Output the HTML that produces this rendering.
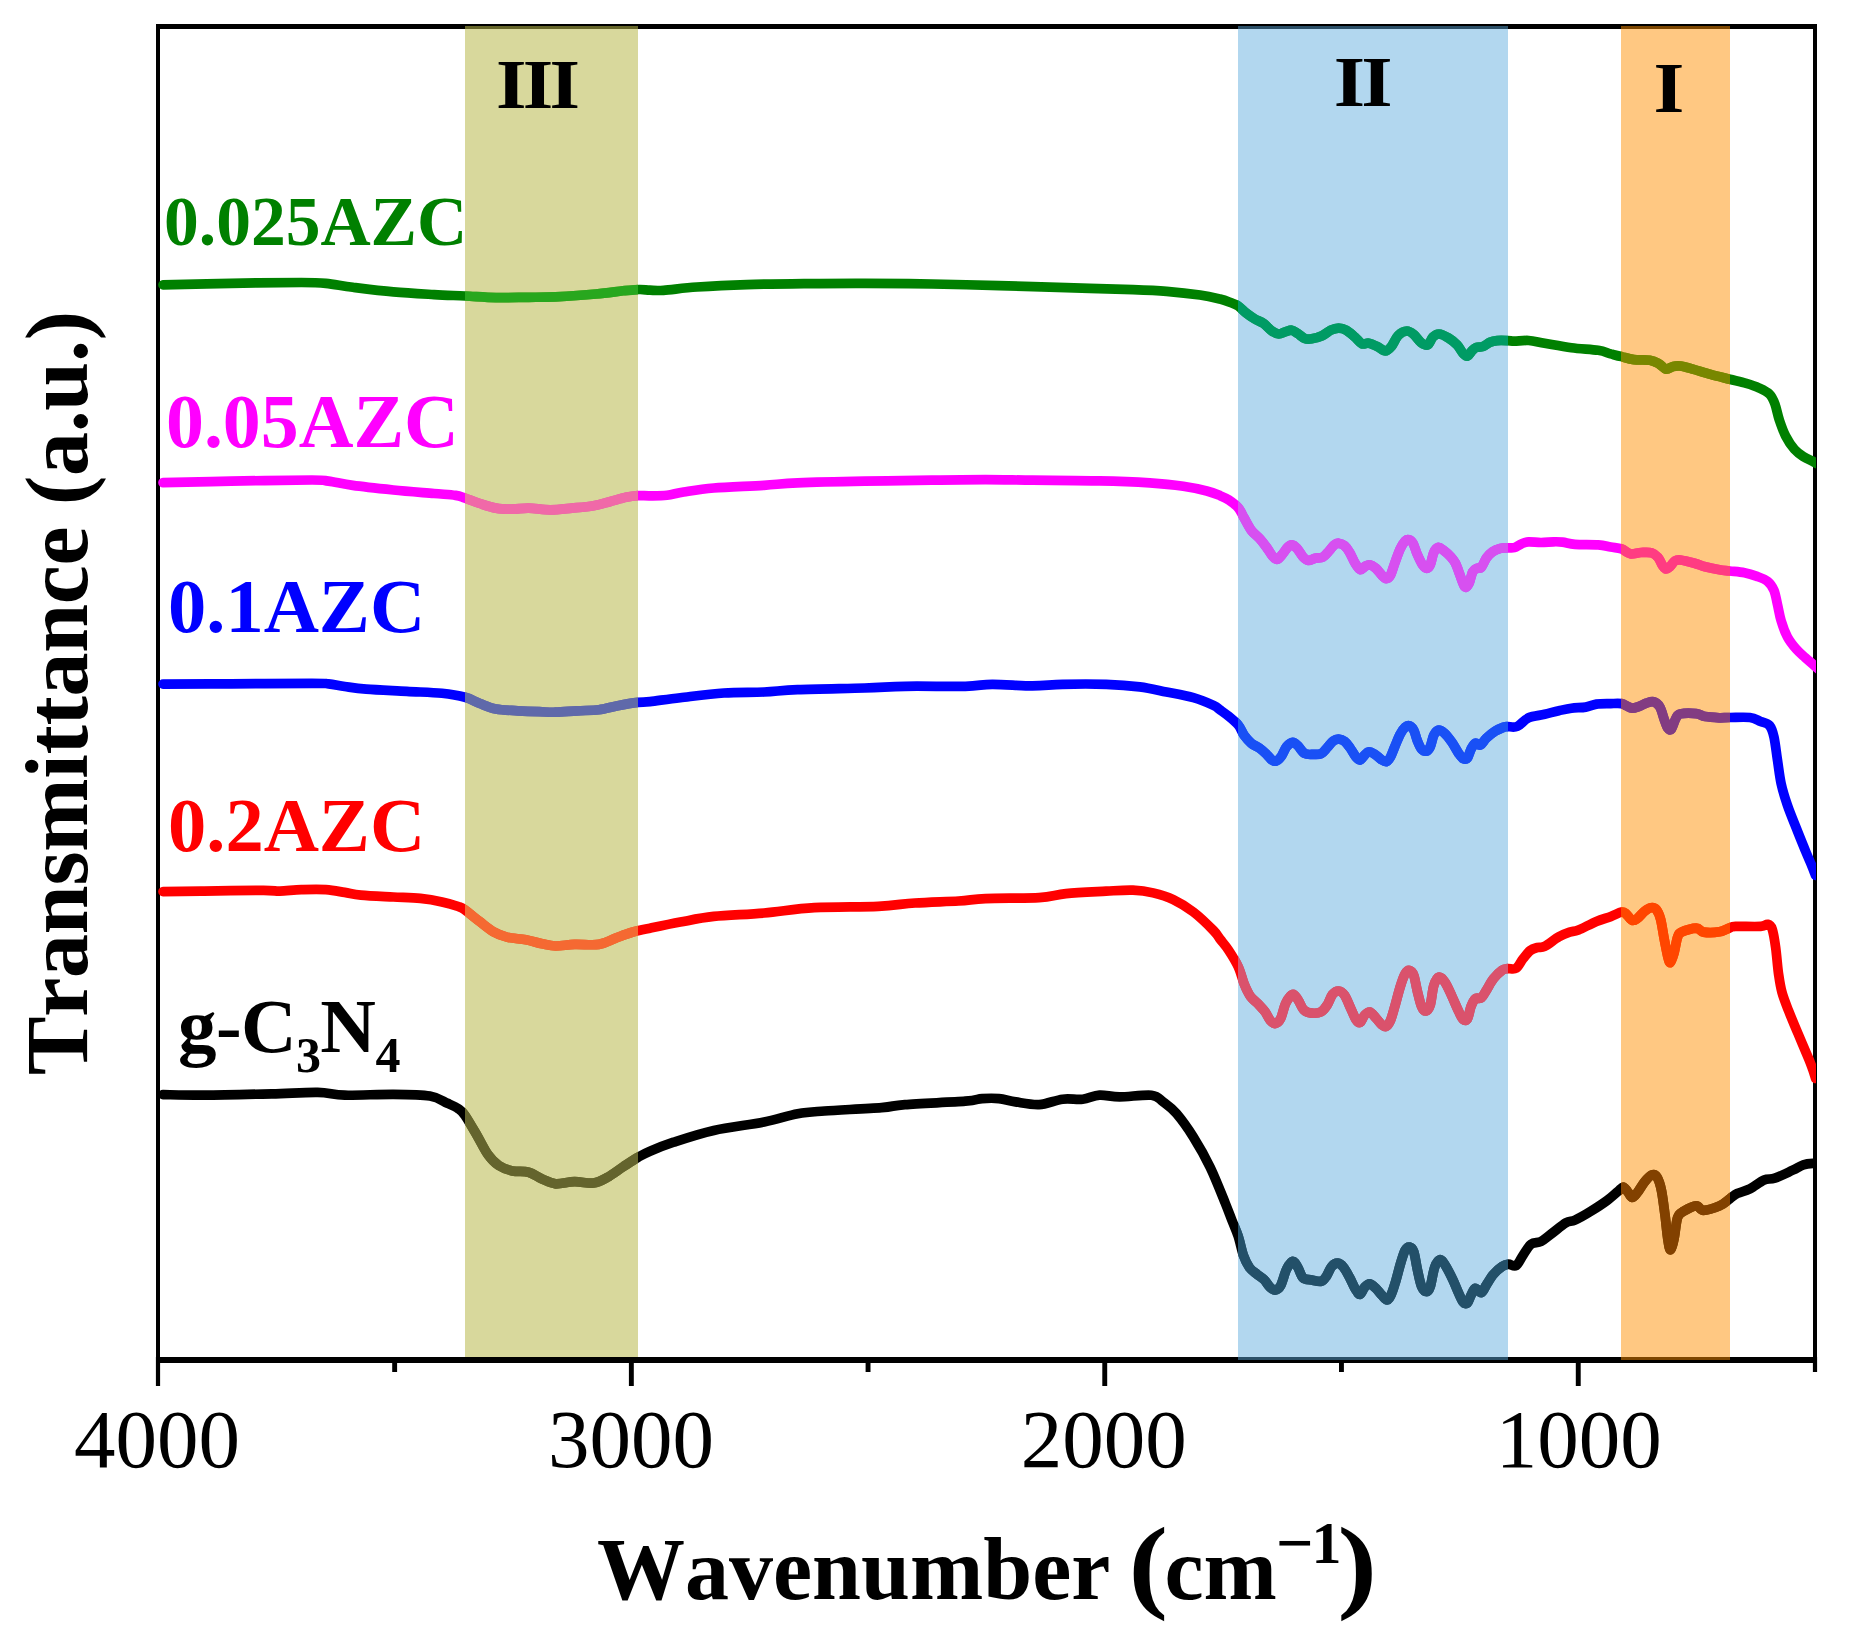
<!DOCTYPE html>
<html lang="en"><head><meta charset="utf-8"><title>FTIR spectra</title>
<style>html,body{margin:0;padding:0;background:#fff;overflow:hidden}svg{display:block}text{font-family:"Liberation Serif",serif}.b{font-weight:bold}text{font-kerning:none;font-variant-ligatures:none}</style></head><body>
<svg width="1849" height="1647" viewBox="0 0 1849 1647">
<rect width="1849" height="1647" fill="#fff"/>
<defs><clipPath id="cp"><rect x="158" y="20" width="1658" height="1345"/></clipPath>
<path id="c0" d="M163.0 284.8C174.3 284.6 207.9 283.7 231.0 283.3C254.1 282.9 285.6 282.5 301.4 282.5C317.2 282.5 317.2 282.5 325.8 283.3C334.4 284.1 341.5 285.9 352.8 287.3C364.1 288.7 379.9 290.7 393.4 291.9C406.9 293.1 422.1 293.9 434.0 294.6C445.9 295.3 454.7 295.5 465.0 296.0C475.3 296.5 485.4 297.4 496.0 297.6C506.6 297.8 518.7 297.4 528.6 297.3C538.5 297.2 544.4 297.4 555.6 296.8C566.8 296.2 584.8 295.0 596.0 294.0C607.2 293.0 615.8 291.6 623.0 290.8C630.2 290.1 635.0 289.6 639.5 289.5C644.0 289.4 646.0 290.1 650.0 290.2C654.0 290.3 655.7 290.8 663.5 290.3C671.3 289.8 683.1 287.9 697.0 287.0C710.9 286.1 729.2 285.2 747.0 284.6C764.8 284.0 784.3 283.8 804.0 283.6C823.7 283.4 843.7 283.2 865.0 283.3C886.3 283.4 909.7 283.6 932.0 284.0C954.3 284.4 976.7 285.0 999.0 285.6C1021.3 286.2 1043.7 286.9 1066.0 287.6C1088.3 288.3 1116.2 289.0 1133.0 289.6C1149.8 290.2 1155.4 290.4 1166.6 291.3C1177.8 292.2 1191.1 293.7 1200.0 295.0C1208.9 296.3 1214.9 297.8 1220.0 299.0C1225.1 300.2 1227.4 301.3 1230.4 302.5C1233.4 303.7 1235.6 304.3 1238.2 306.0C1240.8 307.7 1243.3 310.8 1246.0 312.9C1248.7 315.0 1251.7 317.2 1254.6 318.9C1257.5 320.6 1260.4 321.3 1263.3 323.3C1266.2 325.3 1269.3 329.2 1271.9 331.0C1274.5 332.8 1276.5 333.9 1278.8 334.0C1281.1 334.1 1283.6 332.2 1285.8 331.6C1288.0 331.0 1289.8 329.9 1291.8 330.2C1293.8 330.5 1295.7 332.3 1297.9 333.7C1300.1 335.1 1302.5 337.6 1304.8 338.5C1307.1 339.4 1308.8 339.3 1311.7 338.8C1314.6 338.3 1318.9 337.1 1322.1 335.7C1325.3 334.3 1328.0 331.5 1330.8 330.2C1333.5 328.9 1336.0 328.1 1338.6 328.1C1341.2 328.1 1343.6 328.7 1346.3 330.2C1349.0 331.7 1352.4 334.9 1355.0 337.1C1357.6 339.4 1359.6 342.7 1361.9 343.7C1364.2 344.7 1366.2 342.7 1368.8 343.2C1371.4 343.7 1374.8 345.3 1377.5 346.6C1380.2 347.9 1383.0 351.0 1385.3 351.0C1387.6 351.0 1389.1 349.2 1391.3 346.6C1393.5 344.0 1395.7 338.0 1398.3 335.4C1400.9 332.8 1404.3 331.1 1406.9 331.0C1409.5 330.9 1411.5 332.6 1413.8 334.5C1416.1 336.4 1418.5 340.6 1420.8 342.3C1423.1 344.0 1425.7 345.8 1427.7 344.9C1429.7 344.0 1431.0 338.9 1432.9 337.1C1434.8 335.3 1436.3 333.9 1438.9 334.0C1441.5 334.1 1445.5 336.2 1448.5 338.0C1451.5 339.8 1454.6 342.3 1457.1 344.9C1459.5 347.5 1461.5 351.7 1463.2 353.6C1464.9 355.5 1466.1 356.6 1467.5 356.2C1468.9 355.8 1470.4 352.4 1471.8 351.0C1473.2 349.6 1474.2 348.2 1476.1 347.5C1478.0 346.8 1480.7 347.5 1483.0 346.6C1485.3 345.7 1487.7 343.3 1490.0 342.3C1492.3 341.3 1494.0 340.9 1497.0 340.6C1500.0 340.3 1504.9 340.5 1507.8 340.6C1510.7 340.7 1510.8 341.2 1514.3 341.2C1517.8 341.2 1523.5 340.2 1528.6 340.5C1533.6 340.8 1537.5 342.0 1544.6 343.2C1551.7 344.4 1562.5 346.5 1571.4 347.7C1580.3 348.9 1591.7 349.3 1598.2 350.3C1604.8 351.3 1606.8 352.8 1610.7 353.9C1614.6 354.9 1617.5 355.7 1621.4 356.6C1625.3 357.6 1629.2 359.0 1633.9 359.6C1638.7 360.2 1645.8 359.5 1649.9 360.2C1654.1 360.9 1656.1 362.2 1658.8 363.7C1661.5 365.2 1663.6 368.7 1666.0 369.1C1668.4 369.6 1670.7 366.9 1673.1 366.4C1675.5 365.9 1677.0 365.6 1680.3 366.0C1683.6 366.4 1687.8 367.7 1692.8 369.1C1697.8 370.5 1704.4 372.7 1710.6 374.4C1716.8 376.1 1724.0 377.8 1729.9 379.3C1735.9 380.8 1741.5 382.0 1746.3 383.4C1751.1 384.8 1754.9 386.0 1758.8 387.8C1762.7 389.6 1766.8 391.4 1769.5 394.1C1772.2 396.8 1773.3 399.6 1774.9 403.9C1776.5 408.2 1777.5 414.5 1779.3 419.9C1781.1 425.2 1783.1 431.1 1785.6 436.0C1788.1 440.9 1791.5 446.0 1794.5 449.4C1797.5 452.8 1800.1 454.5 1803.4 456.6C1806.7 458.7 1811.0 460.5 1814.1 462.1C1817.2 463.7 1820.7 465.5 1822.0 466.2"/>
<path id="c1" d="M163.0 482.7C174.3 482.4 206.2 481.6 231.0 481.1C255.8 480.7 295.8 480.0 312.0 480.0C328.2 480.0 321.7 480.2 328.5 481.1C335.3 482.0 342.0 483.9 352.8 485.4C363.6 486.9 379.9 488.6 393.4 490.0C406.9 491.4 423.6 492.6 434.0 493.5C444.4 494.4 450.4 494.6 455.6 495.4C460.8 496.2 460.9 496.8 465.0 498.1C469.1 499.5 474.7 501.8 479.9 503.5C485.1 505.2 490.6 507.2 496.0 508.1C501.4 509.1 507.0 509.2 512.4 509.2C517.8 509.2 522.3 508.0 528.6 508.1C534.9 508.2 543.0 509.8 550.2 509.8C557.4 509.8 564.7 508.8 571.9 508.1C579.1 507.4 587.2 506.8 593.5 505.7C599.8 504.6 604.3 503.1 609.7 501.7C615.1 500.3 621.3 498.3 626.0 497.3C630.7 496.3 634.0 495.9 638.0 495.6C642.0 495.4 645.2 495.9 650.0 495.8C654.8 495.8 661.4 495.9 667.0 495.3C672.6 494.7 675.9 493.2 683.7 492.0C691.5 490.8 700.4 489.1 713.8 488.0C727.2 486.9 750.0 486.2 764.0 485.3C778.0 484.4 780.9 483.6 797.7 482.9C814.5 482.2 842.4 481.6 864.7 481.2C887.1 480.8 911.7 480.5 931.8 480.2C951.9 479.9 968.7 479.6 985.5 479.6C1002.3 479.6 1013.4 480.0 1032.4 480.2C1051.4 480.4 1079.9 480.4 1099.5 480.9C1119.1 481.3 1135.8 482.0 1149.8 482.9C1163.8 483.8 1173.8 484.9 1183.3 486.3C1192.8 487.7 1200.7 489.4 1206.8 491.0C1212.9 492.6 1216.3 494.1 1220.0 495.6C1223.7 497.1 1225.7 497.9 1228.7 499.9C1231.7 501.9 1235.6 504.7 1238.2 507.7C1240.8 510.7 1242.0 514.4 1244.2 518.1C1246.4 521.9 1248.6 526.8 1251.2 530.2C1253.8 533.7 1257.2 535.9 1259.8 538.8C1262.4 541.7 1264.7 544.8 1266.7 547.5C1268.7 550.2 1270.2 553.3 1271.9 555.3C1273.6 557.3 1275.4 559.4 1277.1 559.3C1278.8 559.1 1280.6 556.4 1282.3 554.4C1284.0 552.4 1285.9 549.1 1287.5 547.5C1289.1 545.9 1290.2 544.8 1291.8 544.9C1293.4 545.0 1295.1 546.4 1297.0 548.4C1298.9 550.4 1301.2 555.0 1303.1 557.0C1305.0 559.0 1306.3 560.3 1308.3 560.5C1310.3 560.7 1312.8 558.8 1315.2 558.2C1317.7 557.6 1320.7 558.2 1323.0 557.0C1325.3 555.8 1327.1 553.0 1329.0 551.0C1330.9 549.0 1332.6 546.2 1334.2 544.9C1335.8 543.6 1336.9 543.1 1338.6 543.2C1340.3 543.4 1342.7 544.2 1344.6 545.8C1346.5 547.4 1348.1 549.8 1349.8 552.7C1351.5 555.6 1353.3 560.3 1355.0 563.1C1356.7 565.9 1358.5 569.1 1360.2 569.6C1361.9 570.1 1363.8 567.0 1365.4 566.2C1367.0 565.4 1368.0 564.4 1369.7 564.8C1371.4 565.1 1373.8 566.6 1375.8 568.3C1377.8 570.0 1380.1 573.5 1381.8 575.2C1383.5 576.9 1384.8 578.6 1386.2 578.6C1387.7 578.6 1389.1 577.8 1390.5 575.2C1391.9 572.6 1393.2 567.4 1394.8 563.1C1396.4 558.8 1398.3 552.9 1400.0 549.2C1401.7 545.5 1403.8 542.5 1405.2 540.9C1406.6 539.3 1407.3 539.3 1408.6 539.7C1409.9 540.1 1411.5 540.8 1413.0 543.2C1414.5 545.7 1415.7 550.8 1417.3 554.4C1418.9 558.0 1420.9 562.5 1422.5 564.8C1424.1 567.1 1425.5 568.3 1426.8 568.3C1428.1 568.3 1429.1 567.4 1430.3 564.8C1431.5 562.2 1432.4 555.6 1433.7 552.7C1435.0 549.8 1436.5 547.9 1438.1 547.5C1439.7 547.1 1441.3 548.6 1443.3 550.1C1445.3 551.6 1448.2 554.0 1450.2 556.2C1452.2 558.4 1453.8 560.1 1455.4 563.1C1457.0 566.1 1458.4 570.8 1459.7 574.3C1461.0 577.8 1462.2 581.6 1463.2 583.8C1464.2 586.0 1464.8 587.4 1465.8 587.3C1466.8 587.2 1468.0 585.6 1469.2 583.0C1470.4 580.4 1471.4 574.2 1472.7 571.7C1474.0 569.2 1475.6 569.0 1477.0 568.3C1478.4 567.6 1479.7 569.1 1481.3 567.4C1482.9 565.7 1484.6 560.5 1486.5 557.9C1488.4 555.3 1490.3 553.4 1492.6 551.8C1494.9 550.2 1497.9 549.1 1500.4 548.4C1502.9 547.7 1505.5 547.9 1507.8 547.8C1510.1 547.7 1512.0 548.2 1514.3 547.6C1516.6 547.0 1519.0 544.9 1521.4 543.9C1523.8 542.9 1525.3 542.0 1528.6 541.8C1531.9 541.6 1536.8 542.5 1541.0 542.5C1545.2 542.5 1549.9 541.9 1553.5 541.8C1557.1 541.7 1558.9 541.7 1562.5 542.1C1566.1 542.5 1569.0 543.8 1575.0 544.3C1581.0 544.8 1592.2 544.3 1598.2 544.8C1604.2 545.3 1606.8 546.4 1610.7 547.1C1614.6 547.8 1618.1 547.8 1621.4 548.9C1624.7 550.0 1627.0 553.1 1630.3 553.7C1633.6 554.3 1637.4 552.6 1641.0 552.5C1644.6 552.4 1648.9 552.0 1651.7 552.8C1654.5 553.6 1656.2 555.2 1658.0 557.3C1659.8 559.4 1661.1 563.4 1662.4 565.3C1663.7 567.2 1664.7 568.8 1666.0 568.9C1667.3 569.0 1668.9 567.5 1670.4 566.2C1671.9 564.9 1673.2 561.9 1674.9 560.9C1676.6 559.9 1677.0 559.6 1680.3 560.0C1683.6 560.4 1690.3 562.1 1694.5 563.2C1698.7 564.3 1701.0 565.7 1705.2 566.8C1709.4 567.9 1715.4 569.1 1719.5 569.8C1723.6 570.5 1725.7 570.5 1729.9 571.0C1734.1 571.5 1740.0 571.9 1744.5 572.8C1749.0 573.7 1753.1 575.0 1757.0 576.4C1760.9 577.8 1764.9 579.1 1767.7 581.4C1770.5 583.7 1772.4 586.4 1774.0 590.3C1775.6 594.2 1776.3 599.5 1777.5 604.6C1778.7 609.7 1779.5 615.4 1781.1 620.7C1782.7 626.1 1784.8 632.0 1787.3 636.7C1789.8 641.5 1793.3 645.7 1796.3 649.2C1799.3 652.7 1802.2 654.9 1805.2 657.6C1808.2 660.3 1811.3 662.8 1814.1 665.3C1816.9 667.8 1820.7 671.1 1822.0 672.3"/>
<path id="c2" d="M163.0 684.1C174.3 684.0 206.2 683.9 231.0 683.8C255.8 683.7 295.8 683.3 312.0 683.3C328.2 683.3 323.1 683.3 328.5 683.8C333.9 684.3 338.4 685.6 344.7 686.5C351.0 687.4 355.9 688.4 366.3 689.2C376.7 690.0 394.3 690.7 406.9 691.4C419.5 692.1 432.3 692.3 442.0 693.3C451.7 694.3 458.7 695.6 465.0 697.3C471.3 699.0 474.7 701.5 479.9 703.5C485.1 705.5 489.7 707.8 496.0 709.0C502.3 710.2 510.6 710.3 517.8 710.8C525.0 711.2 533.1 711.5 539.4 711.7C545.7 711.9 549.3 712.4 555.6 712.2C561.9 712.1 570.1 711.2 577.3 710.8C584.5 710.4 592.1 710.6 598.9 709.8C605.6 708.9 611.3 706.9 617.8 705.7C624.3 704.5 632.7 703.1 638.1 702.4C643.5 701.7 643.0 702.4 650.0 701.6C657.0 700.8 668.0 699.1 680.3 697.7C692.6 696.3 709.9 694.0 723.9 693.0C737.9 692.0 751.8 692.6 764.1 692.0C776.4 691.4 780.9 690.3 797.7 689.6C814.5 688.9 846.8 688.5 864.7 688.0C882.6 687.5 888.2 686.6 905.0 686.3C921.8 686.0 950.8 686.6 965.3 686.3C979.8 686.0 981.0 684.4 992.2 684.3C1003.4 684.2 1020.7 685.9 1032.4 685.9C1044.1 685.9 1050.3 684.6 1062.6 684.3C1074.9 684.0 1093.3 683.9 1106.2 684.3C1119.1 684.7 1129.7 685.6 1139.7 686.9C1149.8 688.2 1157.5 690.2 1166.5 692.0C1175.5 693.8 1185.6 695.5 1193.4 697.7C1201.2 699.9 1209.1 703.4 1213.5 705.4C1217.9 707.4 1217.5 708.0 1220.0 709.8C1222.5 711.6 1225.7 713.8 1228.7 716.3C1231.7 718.8 1235.6 721.8 1238.2 725.0C1240.8 728.2 1242.0 732.4 1244.2 735.4C1246.4 738.4 1248.6 741.0 1251.2 743.2C1253.8 745.4 1257.2 746.5 1259.8 748.4C1262.4 750.3 1264.7 752.5 1266.7 754.4C1268.7 756.3 1270.3 758.9 1271.9 760.0C1273.5 761.1 1274.6 761.6 1276.2 761.0C1277.8 760.4 1279.7 758.6 1281.4 756.2C1283.1 753.8 1284.7 748.9 1286.6 746.6C1288.5 744.3 1290.8 742.4 1292.7 742.3C1294.6 742.2 1295.9 743.9 1297.9 745.8C1299.9 747.7 1302.2 752.2 1304.8 753.6C1307.4 755.0 1310.8 754.4 1313.5 754.4C1316.2 754.4 1318.9 754.8 1321.2 753.6C1323.5 752.5 1325.3 749.6 1327.3 747.5C1329.3 745.4 1331.5 742.3 1333.4 740.9C1335.3 739.5 1336.7 739.1 1338.6 739.2C1340.5 739.3 1342.7 740.0 1344.6 741.4C1346.5 742.8 1347.9 744.9 1349.8 747.5C1351.7 750.1 1354.2 754.9 1355.9 757.0C1357.6 759.1 1358.8 760.3 1360.2 760.0C1361.6 759.7 1363.1 756.7 1364.5 755.3C1365.9 753.9 1367.1 751.9 1368.8 751.8C1370.5 751.6 1372.9 753.1 1374.9 754.4C1376.9 755.6 1379.1 758.1 1381.0 759.3C1382.9 760.5 1384.6 762.1 1386.2 761.7C1387.8 761.3 1389.1 759.5 1390.5 757.0C1391.9 754.5 1393.2 750.4 1394.8 746.6C1396.4 742.9 1398.3 737.8 1400.0 734.5C1401.7 731.2 1403.6 728.5 1405.2 727.1C1406.8 725.7 1408.1 725.4 1409.5 725.9C1410.9 726.4 1412.5 727.8 1413.8 730.2C1415.1 732.7 1416.0 737.4 1417.3 740.6C1418.6 743.8 1420.0 747.5 1421.6 749.2C1423.2 750.9 1425.3 751.4 1426.8 751.0C1428.2 750.6 1429.1 749.2 1430.3 746.6C1431.5 744.0 1432.4 738.1 1433.7 735.4C1435.0 732.7 1436.4 730.6 1438.1 730.2C1439.8 729.8 1441.8 730.8 1444.1 732.8C1446.4 734.8 1449.5 738.8 1451.9 742.3C1454.4 745.8 1456.9 750.9 1458.8 753.6C1460.7 756.3 1461.8 758.0 1463.2 758.7C1464.7 759.4 1466.2 759.5 1467.5 757.9C1468.8 756.3 1469.7 751.7 1471.0 749.2C1472.3 746.8 1473.7 743.9 1475.3 743.2C1476.9 742.5 1478.6 745.8 1480.5 744.9C1482.4 744.0 1484.0 740.3 1486.5 738.0C1489.0 735.7 1492.3 732.9 1495.2 731.1C1498.1 729.3 1501.7 727.9 1503.8 727.1C1505.9 726.4 1505.5 726.7 1507.8 726.6C1510.0 726.5 1513.8 727.9 1517.3 726.4C1520.8 724.9 1524.0 719.8 1528.6 717.8C1533.1 715.8 1539.5 715.5 1544.6 714.3C1549.6 713.1 1554.4 711.7 1558.9 710.7C1563.4 709.7 1566.9 708.8 1571.4 708.2C1575.9 707.6 1581.5 707.8 1585.7 707.1C1589.9 706.4 1592.2 704.7 1596.4 704.1C1600.6 703.5 1606.5 703.7 1610.7 703.6C1614.9 703.5 1618.7 703.2 1621.4 703.6C1624.1 704.0 1624.9 705.1 1626.7 705.9C1628.5 706.7 1630.0 708.1 1632.1 708.2C1634.2 708.3 1636.8 707.2 1639.2 706.4C1641.6 705.6 1643.9 704.0 1646.3 703.2C1648.7 702.4 1651.3 701.2 1653.5 701.8C1655.7 702.4 1657.9 703.9 1659.7 706.8C1661.5 709.7 1662.9 715.7 1664.2 719.3C1665.5 722.9 1666.6 726.6 1667.8 728.2C1669.0 729.8 1670.0 730.7 1671.3 729.1C1672.6 727.5 1674.3 720.9 1675.8 718.4C1677.3 715.9 1676.9 714.7 1680.3 713.9C1683.7 713.1 1692.1 713.1 1696.3 713.6C1700.5 714.1 1701.3 715.9 1705.2 716.6C1709.1 717.3 1715.4 717.6 1719.5 717.8C1723.6 717.9 1724.8 717.5 1729.9 717.5C1735.0 717.5 1744.8 716.9 1749.9 717.5C1755.0 718.1 1757.3 720.1 1760.6 721.4C1763.9 722.7 1767.3 722.9 1769.5 725.5C1771.7 728.1 1772.7 731.3 1774.0 737.1C1775.3 742.9 1776.3 752.6 1777.5 760.3C1778.7 768.0 1779.5 776.1 1781.1 783.5C1782.7 790.9 1784.8 797.5 1787.3 804.9C1789.8 812.3 1793.2 820.4 1796.3 828.1C1799.3 835.8 1803.1 845.1 1805.6 851.3C1808.1 857.4 1809.8 861.0 1811.5 865.0C1813.2 869.0 1814.8 873.6 1815.5 875.3"/>
<path id="c3" d="M163.0 891.6C169.8 891.5 187.3 891.3 204.1 891.1C220.9 890.9 251.0 890.3 263.6 890.3C276.2 890.3 273.5 891.2 279.8 891.1C286.1 891.0 293.7 889.9 301.4 889.7C309.1 889.5 318.6 889.2 325.8 889.7C333.0 890.2 338.9 891.5 344.7 892.4C350.5 893.3 352.8 894.4 360.9 895.2C369.0 896.0 383.5 896.5 393.4 897.0C403.3 897.5 412.3 897.6 420.4 898.4C428.5 899.2 435.7 900.5 442.0 901.9C448.3 903.2 454.5 905.1 458.3 906.5C462.1 907.9 461.4 907.5 465.0 910.0C468.6 912.5 475.2 918.1 479.9 921.7C484.6 925.3 488.9 929.1 493.4 931.7C497.9 934.3 501.5 935.8 506.9 937.1C512.3 938.5 520.0 938.7 525.9 939.8C531.8 940.9 537.1 942.8 542.1 943.8C547.1 944.8 550.2 945.9 555.6 946.0C561.0 946.1 567.4 944.7 574.6 944.4C581.8 944.1 592.1 945.4 598.9 944.4C605.6 943.4 609.7 940.4 615.1 938.4C620.5 936.4 625.5 934.2 631.3 932.5C637.1 930.8 641.8 929.9 650.0 928.2C658.2 926.5 669.7 924.1 680.3 922.1C690.9 920.1 699.8 917.9 713.8 916.4C727.8 914.9 747.3 914.5 764.1 913.0C780.9 911.5 795.4 908.8 814.4 907.7C833.4 906.6 861.4 907.1 878.2 906.3C895.0 905.5 901.6 903.9 915.0 903.0C928.4 902.1 946.9 901.7 958.6 901.0C970.4 900.3 972.1 899.2 985.5 898.6C998.9 898.0 1025.7 898.4 1039.1 897.6C1052.5 896.8 1054.8 894.7 1066.0 893.6C1077.2 892.5 1095.0 891.8 1106.2 891.2C1117.4 890.6 1125.2 889.9 1133.0 890.2C1140.8 890.5 1146.4 891.3 1153.1 892.9C1159.8 894.5 1166.6 896.4 1173.3 899.6C1180.0 902.8 1186.7 906.9 1193.4 912.0C1200.1 917.1 1209.1 926.0 1213.5 930.5C1217.9 935.0 1217.5 935.7 1220.0 939.0C1222.5 942.3 1225.7 945.7 1228.7 950.3C1231.7 954.9 1235.6 961.1 1238.2 966.7C1240.8 972.3 1242.2 979.1 1244.2 984.0C1246.2 988.9 1248.0 992.9 1250.3 996.2C1252.6 999.5 1255.6 1001.3 1258.1 1003.9C1260.5 1006.5 1263.0 1009.0 1265.0 1011.7C1267.0 1014.5 1268.5 1018.4 1270.2 1020.4C1271.9 1022.4 1273.7 1023.8 1275.4 1023.5C1277.1 1023.2 1278.9 1022.1 1280.6 1018.7C1282.3 1015.3 1283.8 1007.2 1285.8 1003.1C1287.8 999.0 1290.7 995.0 1292.7 994.4C1294.7 993.8 1296.0 997.0 1297.9 999.6C1299.8 1002.2 1301.6 1007.8 1303.9 1010.0C1306.2 1012.2 1308.8 1012.8 1311.7 1013.1C1314.6 1013.4 1318.6 1013.1 1321.2 1011.7C1323.8 1010.3 1325.4 1007.7 1327.3 1004.8C1329.2 1001.9 1330.6 996.7 1332.5 994.4C1334.4 992.1 1336.6 990.9 1338.6 991.0C1340.6 991.1 1342.6 992.4 1344.6 995.3C1346.6 998.2 1348.8 1004.3 1350.7 1008.3C1352.6 1012.3 1354.3 1017.1 1355.9 1019.5C1357.5 1021.9 1358.8 1023.2 1360.2 1022.5C1361.6 1021.8 1362.9 1016.9 1364.5 1015.2C1366.1 1013.5 1367.8 1011.7 1369.7 1012.1C1371.6 1012.5 1373.8 1015.7 1375.8 1017.8C1377.8 1019.9 1380.1 1023.3 1381.8 1024.7C1383.5 1026.1 1384.8 1027.1 1386.2 1026.4C1387.7 1025.7 1389.1 1023.7 1390.5 1020.4C1391.9 1017.1 1393.2 1012.0 1394.8 1006.5C1396.4 1001.0 1398.3 993.0 1400.0 987.5C1401.7 982.0 1403.6 976.5 1405.2 973.7C1406.8 970.9 1408.1 970.2 1409.5 970.5C1410.9 970.8 1412.5 972.0 1413.8 975.4C1415.1 978.8 1416.0 985.8 1417.3 991.0C1418.6 996.2 1420.1 1003.2 1421.6 1006.5C1423.0 1009.8 1424.5 1011.2 1426.0 1010.9C1427.5 1010.6 1429.0 1009.0 1430.3 1004.8C1431.6 1000.6 1432.3 990.4 1433.7 985.8C1435.1 981.2 1437.0 977.7 1438.9 977.1C1440.8 976.5 1442.8 979.1 1445.0 982.3C1447.2 985.5 1449.6 991.3 1451.9 996.2C1454.2 1001.1 1456.9 1007.8 1458.8 1011.7C1460.7 1015.6 1461.8 1018.3 1463.2 1019.5C1464.7 1020.7 1466.2 1020.9 1467.5 1018.7C1468.8 1016.5 1469.7 1009.8 1471.0 1006.5C1472.3 1003.2 1473.6 1000.1 1475.3 998.7C1477.0 997.3 1479.4 999.3 1481.3 997.9C1483.2 996.5 1484.5 993.3 1486.5 990.1C1488.5 986.9 1490.8 982.1 1493.4 978.8C1496.0 975.5 1499.7 971.9 1502.1 970.2C1504.5 968.5 1505.5 968.9 1507.8 968.6C1510.1 968.3 1513.5 970.0 1516.1 968.3C1518.7 966.6 1520.8 961.5 1523.2 958.5C1525.6 955.5 1527.9 952.3 1530.3 950.5C1532.7 948.7 1535.1 948.2 1537.5 947.5C1539.9 946.8 1541.0 948.2 1544.6 946.4C1548.2 944.6 1554.7 939.2 1558.9 936.8C1563.1 934.4 1566.3 933.2 1569.6 932.1C1572.9 931.0 1574.0 931.8 1578.5 930.0C1583.0 928.2 1591.0 923.6 1596.4 921.4C1601.8 919.2 1606.5 918.1 1610.7 916.6C1614.9 915.1 1618.9 912.6 1621.4 912.1C1623.9 911.6 1624.0 912.2 1625.8 913.6C1627.6 915.0 1630.2 919.4 1632.1 920.2C1634.0 921.0 1635.3 919.9 1637.4 918.4C1639.5 916.9 1642.4 913.0 1644.6 911.2C1646.8 909.4 1648.9 908.0 1650.8 907.7C1652.7 907.4 1654.6 907.5 1656.2 909.4C1657.8 911.3 1659.3 914.4 1660.6 919.3C1661.9 924.2 1663.0 932.7 1664.2 938.9C1665.4 945.1 1666.8 952.8 1667.8 956.7C1668.8 960.6 1669.4 963.1 1670.4 962.5C1671.4 961.9 1672.8 957.4 1674.0 953.2C1675.2 949.0 1676.3 940.7 1677.6 937.1C1678.9 933.5 1678.9 933.3 1682.0 931.8C1685.1 930.3 1692.7 928.2 1696.3 928.2C1699.9 928.2 1699.6 931.5 1703.5 932.1C1707.4 932.7 1715.1 932.5 1719.5 931.8C1723.9 931.1 1727.2 928.7 1729.9 927.8C1732.6 926.9 1730.5 926.6 1735.6 926.4C1740.7 926.2 1755.2 926.8 1760.6 926.4C1765.9 926.0 1765.8 923.8 1767.7 924.3C1769.6 924.8 1770.9 925.2 1772.2 929.1C1773.5 933.0 1774.7 940.5 1775.7 947.8C1776.7 955.1 1777.4 965.4 1778.4 972.8C1779.5 980.2 1780.2 985.8 1782.0 992.4C1783.8 999.0 1786.4 1005.2 1789.1 1012.1C1791.8 1019.0 1794.8 1025.8 1798.0 1033.5C1801.2 1041.2 1806.1 1052.5 1808.6 1058.5C1811.1 1064.5 1811.6 1066.2 1812.8 1069.5C1814.0 1072.8 1815.1 1077.0 1815.6 1078.5"/>
<path id="c4" d="M163.0 1094.6C169.8 1094.7 186.0 1095.3 204.1 1095.2C222.2 1095.1 252.8 1094.3 271.7 1093.8C290.6 1093.3 305.5 1092.2 317.7 1092.4C329.9 1092.6 332.1 1094.9 344.7 1095.2C357.3 1095.5 379.2 1094.2 393.4 1094.3C407.6 1094.4 420.9 1094.5 429.9 1096.0C438.9 1097.5 442.8 1101.2 447.5 1103.3C452.2 1105.4 455.4 1106.7 458.3 1108.7C461.2 1110.7 461.9 1110.9 465.0 1115.4C468.1 1119.9 473.4 1129.2 477.2 1135.7C481.0 1142.2 484.4 1149.6 488.0 1154.6C491.6 1159.6 494.7 1162.8 498.8 1165.5C502.9 1168.2 507.4 1169.8 512.4 1170.9C517.4 1172.0 523.6 1170.9 528.6 1172.2C533.6 1173.5 537.6 1177.1 542.1 1179.0C546.6 1180.9 550.2 1183.3 555.6 1183.8C561.0 1184.2 568.3 1181.8 574.6 1181.7C580.9 1181.6 588.1 1183.7 593.5 1183.0C598.9 1182.3 602.0 1180.3 607.0 1177.6C612.0 1174.9 618.0 1170.2 623.2 1166.8C628.4 1163.4 633.6 1159.9 638.1 1157.3C642.6 1154.7 644.1 1153.7 650.0 1151.2C655.9 1148.7 663.0 1145.7 673.6 1142.2C684.2 1138.7 698.7 1133.8 713.8 1130.4C728.9 1127.0 750.1 1124.8 764.1 1122.0C778.1 1119.2 787.6 1115.5 797.7 1113.7C807.8 1111.9 810.5 1112.0 824.5 1111.0C838.5 1110.0 868.1 1108.7 881.5 1107.6C894.9 1106.5 891.0 1105.7 905.0 1104.6C919.0 1103.5 952.4 1102.2 965.3 1101.2C978.1 1100.2 976.5 1099.0 982.1 1098.6C987.7 1098.2 993.3 1098.0 998.9 1098.6C1004.5 1099.1 1008.9 1100.9 1015.6 1101.9C1022.3 1102.9 1031.3 1105.0 1039.1 1104.6C1046.9 1104.1 1055.3 1100.1 1062.6 1099.2C1069.9 1098.3 1076.5 1099.9 1082.7 1099.2C1088.9 1098.5 1093.3 1095.6 1099.5 1095.2C1105.7 1094.8 1110.9 1096.9 1119.6 1096.9C1128.3 1096.9 1144.2 1094.4 1151.5 1095.2C1158.8 1096.0 1159.0 1098.8 1163.2 1101.9C1167.4 1105.0 1171.6 1107.8 1176.6 1113.7C1181.6 1119.6 1187.8 1128.2 1193.4 1137.1C1199.0 1146.0 1204.9 1156.3 1210.2 1167.3C1215.5 1178.3 1221.6 1194.1 1225.2 1203.0C1228.8 1211.9 1229.9 1215.2 1232.1 1220.8C1234.3 1226.3 1236.3 1230.5 1238.2 1236.3C1240.1 1242.1 1241.5 1250.2 1243.4 1255.4C1245.3 1260.6 1247.1 1264.3 1249.4 1267.5C1251.7 1270.7 1254.8 1272.4 1257.2 1274.4C1259.7 1276.4 1261.9 1277.4 1264.1 1279.6C1266.3 1281.8 1268.3 1285.7 1270.2 1287.4C1272.1 1289.1 1273.7 1290.3 1275.4 1290.0C1277.1 1289.7 1278.7 1289.2 1280.6 1285.7C1282.5 1282.2 1284.6 1273.2 1286.6 1269.2C1288.6 1265.2 1290.8 1261.7 1292.7 1261.4C1294.6 1261.1 1296.2 1264.8 1297.9 1267.5C1299.6 1270.2 1300.8 1275.8 1303.1 1277.9C1305.4 1280.0 1308.7 1279.4 1311.7 1280.0C1314.7 1280.6 1318.8 1281.9 1321.2 1281.3C1323.7 1280.7 1324.7 1278.7 1326.4 1276.2C1328.1 1273.8 1329.7 1268.8 1331.6 1266.6C1333.5 1264.4 1335.7 1263.0 1337.7 1263.2C1339.7 1263.4 1341.7 1265.0 1343.7 1267.5C1345.7 1270.0 1347.8 1274.2 1349.8 1277.9C1351.8 1281.7 1354.2 1287.3 1355.9 1290.0C1357.6 1292.7 1358.8 1294.7 1360.2 1294.3C1361.6 1293.9 1362.9 1289.1 1364.5 1287.4C1366.1 1285.7 1367.8 1283.8 1369.7 1283.9C1371.6 1284.1 1373.8 1286.4 1375.8 1288.3C1377.8 1290.2 1379.9 1293.2 1381.8 1295.2C1383.7 1297.2 1385.4 1300.2 1387.0 1300.0C1388.6 1299.8 1389.8 1297.4 1391.3 1294.3C1392.8 1291.2 1394.1 1286.6 1395.7 1281.3C1397.3 1276.0 1399.3 1267.5 1400.9 1262.3C1402.5 1257.1 1403.8 1252.7 1405.2 1250.2C1406.6 1247.7 1408.1 1246.8 1409.5 1247.1C1410.9 1247.4 1412.5 1248.2 1413.8 1251.9C1415.1 1255.6 1416.0 1263.4 1417.3 1269.2C1418.6 1275.0 1420.0 1282.8 1421.6 1286.5C1423.2 1290.2 1425.3 1291.7 1426.8 1291.7C1428.2 1291.7 1429.0 1290.5 1430.3 1286.5C1431.6 1282.5 1433.0 1272.0 1434.6 1267.5C1436.2 1263.0 1438.1 1260.1 1439.8 1259.7C1441.5 1259.3 1442.8 1261.6 1445.0 1264.9C1447.2 1268.2 1450.5 1274.8 1452.8 1279.6C1455.1 1284.4 1457.1 1289.8 1458.8 1293.5C1460.5 1297.2 1461.8 1300.5 1463.2 1302.1C1464.7 1303.7 1466.2 1304.2 1467.5 1303.0C1468.8 1301.8 1469.7 1297.7 1471.0 1295.2C1472.3 1292.8 1473.6 1288.7 1475.3 1288.3C1477.0 1287.9 1479.4 1293.2 1481.3 1292.6C1483.2 1292.0 1484.5 1287.8 1486.5 1284.8C1488.5 1281.8 1490.8 1277.4 1493.4 1274.4C1496.0 1271.4 1499.6 1268.3 1502.1 1266.6C1504.6 1264.9 1506.2 1264.4 1508.5 1264.2C1510.8 1264.0 1513.6 1267.1 1516.1 1265.6C1518.5 1264.0 1520.7 1258.5 1523.2 1254.9C1525.7 1251.3 1528.2 1246.4 1531.2 1244.2C1534.2 1242.0 1537.6 1243.3 1541.0 1241.5C1544.4 1239.7 1547.6 1236.6 1551.8 1233.5C1556.0 1230.4 1562.1 1225.0 1566.0 1222.8C1569.9 1220.6 1570.8 1222.0 1575.0 1220.1C1579.2 1218.2 1585.7 1214.5 1591.0 1211.2C1596.3 1207.9 1602.6 1203.8 1607.1 1200.5C1611.6 1197.2 1615.1 1193.8 1617.8 1191.6C1620.5 1189.4 1621.5 1187.1 1623.1 1187.1C1624.7 1187.1 1626.1 1189.9 1627.6 1191.6C1629.1 1193.3 1630.5 1197.3 1632.1 1197.5C1633.7 1197.7 1635.3 1195.1 1637.4 1192.5C1639.5 1189.9 1642.2 1184.7 1644.6 1181.8C1647.0 1178.9 1649.6 1175.8 1651.7 1175.0C1653.8 1174.2 1655.5 1174.7 1657.1 1177.3C1658.7 1179.9 1660.2 1184.3 1661.5 1190.7C1662.8 1197.1 1664.0 1207.7 1665.1 1215.7C1666.1 1223.7 1666.9 1233.2 1667.8 1238.9C1668.7 1244.6 1669.4 1249.9 1670.4 1249.9C1671.4 1249.9 1672.8 1244.3 1674.0 1238.9C1675.2 1233.5 1676.0 1222.1 1677.6 1217.5C1679.2 1212.9 1680.7 1213.1 1683.8 1211.2C1686.9 1209.3 1693.0 1206.1 1696.3 1205.9C1699.6 1205.8 1699.6 1210.3 1703.5 1210.3C1707.4 1210.3 1715.1 1207.8 1719.5 1205.9C1723.9 1204.0 1726.9 1200.8 1729.9 1198.7C1732.9 1196.6 1734.1 1195.0 1737.4 1193.4C1740.7 1191.8 1745.5 1191.1 1749.9 1188.9C1754.4 1186.7 1759.9 1181.8 1764.1 1180.0C1768.2 1178.2 1770.0 1179.8 1774.8 1178.2C1779.6 1176.6 1787.9 1172.4 1792.7 1170.2C1797.5 1168.0 1799.8 1166.0 1803.4 1164.8C1807.0 1163.6 1811.0 1163.5 1814.1 1163.3C1817.2 1163.1 1820.7 1163.5 1822.0 1163.6"/>
</defs>
<g fill="#000">
<rect x="156" y="24" width="1661" height="5"/>
<rect x="156" y="1357" width="1661" height="6"/>
<rect x="156" y="24" width="4" height="1339"/>
<rect x="1813" y="24" width="4" height="1339"/>
<rect x="155.9" y="1357" width="4.2" height="29"/>
<rect x="392.2" y="1357" width="4.9" height="15"/>
<rect x="628.9" y="1357" width="4.9" height="29"/>
<rect x="865.6" y="1357" width="4.9" height="15"/>
<rect x="1102.3" y="1357" width="4.9" height="29"/>
<rect x="1339.0" y="1357" width="4.9" height="15"/>
<rect x="1575.8" y="1357" width="4.9" height="29"/>
<rect x="1812.9" y="1357" width="4.2" height="15"/>
</g>
<g fill="none" stroke-width="9.7" stroke-linecap="round" stroke-linejoin="round" clip-path="url(#cp)">
<use href="#c0" stroke="#008000"/>
<use href="#c1" stroke="#ff00ff"/>
<use href="#c2" stroke="#0000ff"/>
<use href="#c3" stroke="#ff0000"/>
<use href="#c4" stroke="#000000"/>
</g>
<rect x="465" y="26" width="173" height="1331" fill="rgb(184,184,76)" fill-opacity="0.553"/>
<rect x="1238" y="26" width="270" height="1334" fill="rgb(91,170,222)" fill-opacity="0.47"/>
<rect x="1621" y="26" width="109" height="1334" fill="rgb(255,143,0)" fill-opacity="0.49"/>
<clipPath id="b3"><rect x="465" y="30" width="173" height="1326"/></clipPath>
<g fill="none" stroke-width="9.7" stroke-linecap="round" stroke-linejoin="round" clip-path="url(#b3)">
<use href="#c0" stroke="rgb(40,167,30)"/>
<use href="#c1" stroke="rgb(240,105,168)"/>
<use href="#c2" stroke="rgb(95,105,170)"/>
<use href="#c3" stroke="rgb(245,105,50)"/>
<use href="#c4" stroke="rgb(100,100,45)"/>
</g>
<clipPath id="b2"><rect x="1238" y="30" width="270" height="1326"/></clipPath>
<g fill="none" stroke-width="9.7" stroke-linecap="round" stroke-linejoin="round" clip-path="url(#b2)">
<use href="#c0" stroke="rgb(0,155,100)"/>
<use href="#c1" stroke="rgb(215,80,240)"/>
<use href="#c2" stroke="rgb(25,80,245)"/>
<use href="#c3" stroke="rgb(218,82,108)"/>
<use href="#c4" stroke="rgb(35,80,105)"/>
</g>
<clipPath id="b1"><rect x="1621" y="30" width="109" height="1326"/></clipPath>
<g fill="none" stroke-width="9.7" stroke-linecap="round" stroke-linejoin="round" clip-path="url(#b1)">
<use href="#c0" stroke="rgb(120,135,0)"/>
<use href="#c1" stroke="rgb(255,60,130)"/>
<use href="#c2" stroke="rgb(130,60,130)"/>
<use href="#c3" stroke="rgb(255,70,0)"/>
<use href="#c4" stroke="rgb(130,65,0)"/>
</g>
<g class="b" fill="#000" text-anchor="middle">
<text transform="translate(536.2 108.4) scale(1.12 1)" font-size="70" letter-spacing="-3.3">III</text>
<text transform="translate(1361.2 106.2) scale(1.12 1)" font-size="72" letter-spacing="-3.6">II</text>
<text transform="translate(1669 112.1) scale(1.10 1)" font-size="72">I</text>
</g>
<g class="b">
<text x="164" y="244.6" font-size="69.5" fill="#008000">0.025AZC</text>
<text x="166" y="446.5" font-size="75.8" fill="#ff00ff">0.05AZC</text>
<text x="168" y="632.3" font-size="76.5" fill="#0000ff">0.1AZC</text>
<text x="168" y="851" font-size="76.5" fill="#ff0000">0.2AZC</text>
<text x="178" y="1052.3" font-size="77" fill="#000" letter-spacing="-0.6">g-C<tspan font-size="50" dy="20">3</tspan><tspan dy="-20">N</tspan><tspan font-size="50" dy="20">4</tspan></text>
</g>
<g font-size="83" fill="#000" text-anchor="middle">
<text x="157.0" y="1467.2">4000</text>
<text x="630.9" y="1467.2">3000</text>
<text x="1103.8" y="1467.2">2000</text>
<text x="1578.7" y="1467.2">1000</text>
</g>
<g class="b" font-size="88" fill="#000">
<text x="597" y="1599">Wavenumber</text>
<text transform="translate(1128.5 1599.3) scale(1.15 1)" font-size="103">(</text>
<text x="1164.5" y="1599">cm</text>
<text x="1276" y="1563" font-size="60"><tspan font-size="66" dy="2">−</tspan><tspan dy="-2" dx="-2">1</tspan></text>
<text transform="translate(1337.5 1599.3) scale(1.15 1)" font-size="103">)</text>
</g>
<text class="b" font-size="88" transform="translate(87 1075) rotate(-90)" textLength="764" lengthAdjust="spacing">Transmittance (a.u.)</text>
</svg></body></html>
